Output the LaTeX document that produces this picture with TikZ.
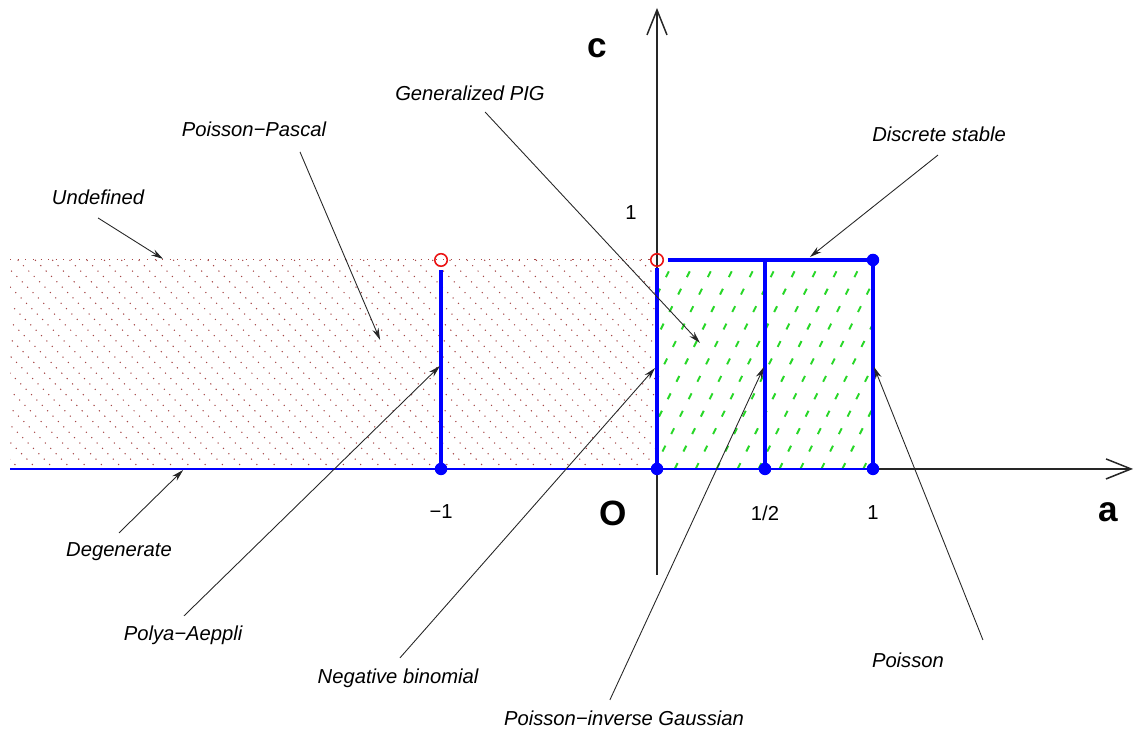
\documentclass[tikz,border=0pt]{standalone}
\usepackage{fontspec}
\setmainfont{Liberation Sans}
\usepackage{tikz}
\usetikzlibrary{arrows.meta,calc}
\definecolor{zoneblue}{RGB}{0,0,255}
\definecolor{zonered}{RGB}{235,20,20}
\definecolor{zonegreen}{RGB}{40,215,40}
\definecolor{dotred}{RGB}{165,70,70}
\tikzset{
  axis/.style={line width=0.85pt,draw=black!85,-{Straight Barb[length=5mm,width=4mm]}},
  thickseg/.style={line width=2.8pt,draw=zoneblue},
  thinseg/.style={line width=1.1pt,draw=zoneblue},
  fulldot/.style={circle,fill=zoneblue,inner sep=0pt,minimum size=2.5mm},
  opendot/.style={circle,draw=zonered,line width=0.9pt,inner sep=0pt,minimum size=2.5mm},
  label/.style={font=\fontsize{11.5}{14}\selectfont\itshape},
  ticklabel/.style={font=\fontsize{11.5}{14}\selectfont},
  axislabel/.style={font=\fontsize{20}{24}\selectfont\bfseries},
  pointer/.style={-{Stealth[length=2.4mm,width=1.3mm]},line width=0.5pt,draw=black!85},
  greenhatch/.style={zonegreen,line width=1.1pt,dash pattern=on 1.3mm off 2.6mm},
  redhatch/.style={dotred,line width=0.6pt,dash pattern=on 0.22mm off 1.3mm}
}

\begin{document}
\begin{tikzpicture}[x=4.32cm,y=4.18cm]
\useasboundingbox (-3.042,-1.273) rectangle (2.227,2.244);
% hatched zones
\begin{scope}
\clip (-2.995,0) rectangle (0,1);
\foreach \s in {-4.0,-3.92,...,0.1}
  \draw[redhatch] (\s,1) -- ++(0.968,-1);
\end{scope}
\draw[redhatch] (-2.995,1) -- (0,1);
\begin{scope}
\clip (0,0) rectangle (1,1);
\foreach \s in {-0.5,-0.403,...,1.05}
  \draw[greenhatch] (\s,0) -- ++(0.484,1);
\end{scope}
% axes
\draw[axis] (-2.995,0) -- (2.204,0);
\draw[axis] (0,-0.507) -- (0,2.206);
\node[axislabel] (clab) at (-0.278,2.014) {c};
\node[axislabel] (alab) at (2.088,-0.206) {a};
\node[axislabel] (olab) at (-0.204,-0.215) {O};
\node[ticklabel] (cone) at (-0.12,1.225) {1};
\node[ticklabel] (mone) at (-1,-0.206) {−1};
\node[ticklabel] (half) at (0.5,-0.21) {1/2};
\node[ticklabel] (aone) at (1,-0.21) {1};
% boundary segments
\draw[thinseg] (-2.995,0) -- (1,0);
\draw[thickseg] (-1,0) -- (-1,0.95);
\draw[thickseg] (0,0) -- (0,0.96);
\draw[thickseg] (0.05,1) -- (1,1);
\draw[thickseg] (0.5,0) -- (0.5,1);
\draw[thickseg] (1,0) -- (1,1);
\node[fulldot] (pm) at (-1,0) {};
\node[fulldot] (pz) at (0,0) {};
\node[fulldot] (ph) at (0.5,0) {};
\node[fulldot] (po) at (1,0) {};
\node[fulldot] (pt) at (1,1) {};
\node[opendot] (qm) at (-1,1) {};
\node[opendot] (qz) at (0,1) {};
% labels
\node[label] (undef) at (-2.588,1.301) {Undefined};
\node[label] (pascal) at (-1.866,1.627) {Poisson−Pascal};
\node[label] (gpig) at (-0.866,1.799) {Generalized PIG};
\node[label] (dstable) at (1.306,1.603) {Discrete stable};
\node[label] (degen) at (-2.491,-0.397) {Degenerate};
\node[label] (polya) at (-2.194,-0.794) {Polya−Aeppli};
\node[label] (negbin) at (-1.199,-1.0) {Negative binomial};
\node[label] (pig) at (-0.153,-1.191) {Poisson−inverse Gaussian};
\node[label] (poisson) at (1.162,-0.914) {Poisson};
% pointer ends
\coordinate (undefA) at (-2.588,1.201);
\coordinate (undefB) at (-2.287,1.005);
\coordinate (pascalA) at (-1.653,1.517);
\coordinate (pascalB) at (-1.282,0.617);
\coordinate (gpigA) at (-0.796,1.708);
\coordinate (gpigB) at (0.199,0.603);
\coordinate (dstableA) at (1.301,1.502);
\coordinate (dstableB) at (0.708,1.014);
\coordinate (degenA) at (-2.491,-0.306);
\coordinate (degenB) at (-2.194,-0.005);
\coordinate (polyaA) at (-2.19,-0.703);
\coordinate (polyaB) at (-1.005,0.493);
\coordinate (negbinA) at (-1.19,-0.904);
\coordinate (negbinB) at (-0.009,0.483);
\coordinate (pigA) at (-0.218,-1.105);
\coordinate (pigB) at (0.495,0.488);
\coordinate (poissonA) at (1.509,-0.818);
\coordinate (poissonB) at (1.005,0.488);
\draw[pointer] (undefA) -- (undefB);
\draw[pointer] (pascalA) -- (pascalB);
\draw[pointer] (gpigA) -- (gpigB);
\draw[pointer] (dstableA) -- (dstableB);
\draw[pointer] (degenA) -- (degenB);
\draw[pointer] (polyaA) -- (polyaB);
\draw[pointer] (negbinA) -- (negbinB);
\draw[pointer] (pigA) -- (pigB);
\draw[pointer] (poissonA) -- (poissonB);
\end{tikzpicture}
\end{document}
